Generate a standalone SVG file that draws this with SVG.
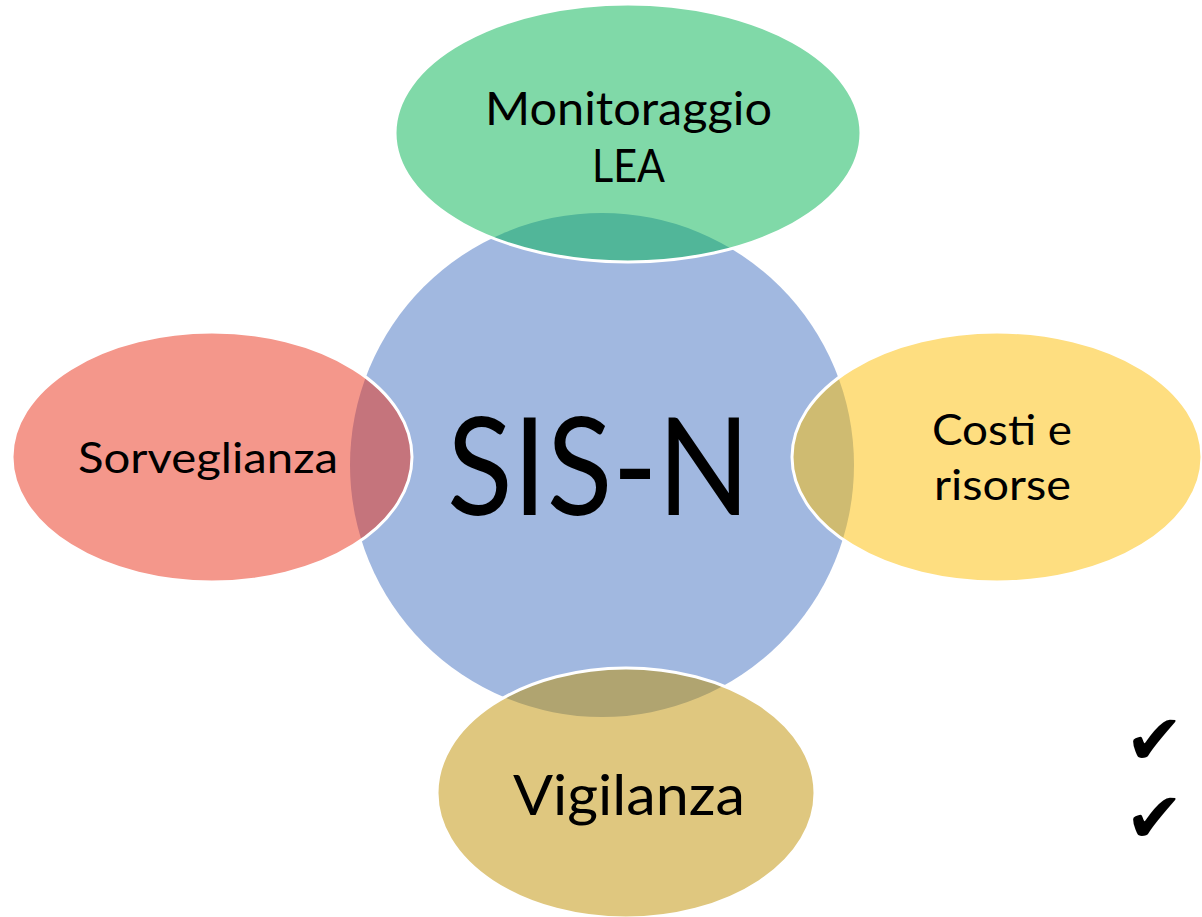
<svg xmlns="http://www.w3.org/2000/svg" width="1202" height="917" viewBox="0 0 1202 917">
  <style>
    .lbl { font-family: Lato, "Liberation Sans", sans-serif; fill: #000; text-anchor: start; }
    .sat { stroke: #FFFFFF; stroke-width: 3; fill-opacity: 0.5; }
    .chk { font-family: "DejaVu Sans", sans-serif; fill: #000; font-size: 70px; }
  </style>
  <rect width="1202" height="917" fill="#FFFFFF"/>
  <g id="center">
    <circle cx="602" cy="465" r="252" fill="#A1B8E0"/>
    <text class="lbl" x="447" y="515" font-size="135" textLength="303" lengthAdjust="spacingAndGlyphs">SIS-N</text>
  </g>
  <g id="monitoraggio">
    <ellipse class="sat" cx="628" cy="133" rx="233" ry="129" fill="#01B351"/>
    <text class="lbl" x="485" y="125" font-size="46" textLength="287" lengthAdjust="spacingAndGlyphs">Monitoraggio</text>
    <text class="lbl" x="592" y="182" font-size="46" textLength="73" lengthAdjust="spacingAndGlyphs">LEA</text>
  </g>
  <g id="sorveglianza">
    <ellipse class="sat" cx="212" cy="457" rx="200" ry="125" fill="#E92F17"/>
    <text class="lbl" x="78" y="473" font-size="43" textLength="260" lengthAdjust="spacingAndGlyphs">Sorveglianza</text>
  </g>
  <g id="costi">
    <ellipse class="sat" cx="997" cy="457" rx="205" ry="125" fill="#FDBD01"/>
    <text class="lbl" x="932" y="445" font-size="42" textLength="140" lengthAdjust="spacingAndGlyphs">Costi e</text>
    <text class="lbl" x="934" y="500" font-size="42" textLength="137" lengthAdjust="spacingAndGlyphs">risorse</text>
  </g>
  <g id="vigilanza">
    <ellipse class="sat" cx="626" cy="793" rx="189" ry="125" fill="#BF8F00"/>
    <text class="lbl" x="513" y="815" font-size="56" textLength="232" lengthAdjust="spacingAndGlyphs">Vigilanza</text>
  </g>
  <g id="connectors"></g>
  <g id="checks">
    <text class="chk" x="1125" y="764">✔</text>
    <text class="chk" x="1125" y="842">✔</text>
  </g>
</svg>
